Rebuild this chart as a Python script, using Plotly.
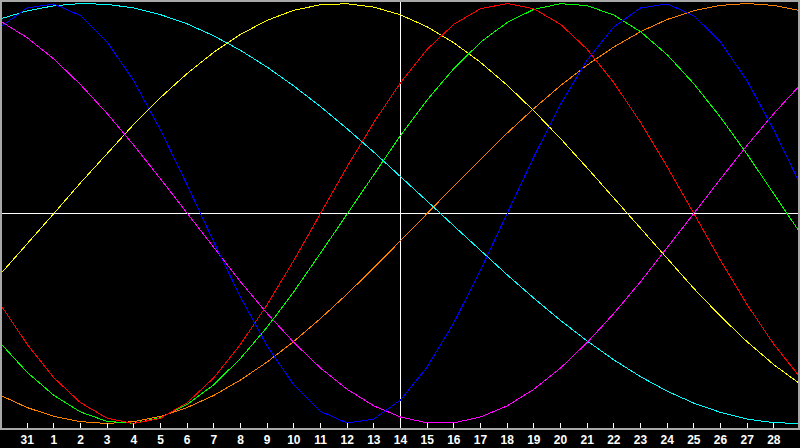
import plotly.graph_objects as go

# x categories (days shown across the chart)
days = ["30", "31", "1", "2", "3", "4", "5", "6", "7", "8", "9", "10", "11", "12", "13", "14",
        "15", "16", "17", "18", "19", "20", "21", "22", "23", "24", "25", "26", "27", "28", "29"]
tick_labels = ["31", "1", "2", "3", "4", "5", "6", "7", "8", "9", "10", "11", "12", "13", "14",
               "15", "16", "17", "18", "19", "20", "21", "22", "23", "24", "25", "26", "27", "28"]
today = "14"

physical = [0.888, 0.979, 0.998, 0.942, 0.817, 0.631, 0.398, 0.136, -0.136, -0.398, -0.631,
            -0.817, -0.942, -0.998, -0.979, -0.888, -0.731, -0.520, -0.270, 0.0, 0.270, 0.520,
            0.731, 0.888, 0.979, 0.998, 0.942, 0.817, 0.631, 0.398, 0.136]
emotional = [-0.434, -0.623, -0.782, -0.901, -0.975, -1.0, -0.975, -0.901, -0.782, -0.623,
             -0.434, -0.223, 0.0, 0.223, 0.434, 0.623, 0.782, 0.901, 0.975, 1.0, 0.975, 0.901,
             0.782, 0.623, 0.434, 0.223, 0.0, -0.223, -0.434, -0.623, -0.782]
intellectual = [-0.618, -0.756, -0.866, -0.945, -0.990, -0.999, -0.972, -0.910, -0.815, -0.690,
                -0.541, -0.372, -0.189, 0.0, 0.189, 0.372, 0.541, 0.690, 0.815, 0.910, 0.972,
                0.999, 0.990, 0.945, 0.866, 0.756, 0.618, 0.458, 0.282, 0.095, -0.095]
intuitive = [0.916, 0.837, 0.736, 0.614, 0.476, 0.325, 0.165, 0.0, -0.165, -0.325, -0.476,
             -0.614, -0.736, -0.837, -0.916, -0.969, -0.997, -0.997, -0.969, -0.916, -0.837,
             -0.736, -0.614, -0.476, -0.325, -0.165, 0.0, 0.165, 0.325, 0.476, 0.614]
aesthetic = [-0.288, -0.146, 0.0, 0.146, 0.288, 0.425, 0.552, 0.667, 0.768, 0.853, 0.920,
             0.968, 0.994, 0.999, 0.983, 0.946, 0.889, 0.813, 0.720, 0.611, 0.489, 0.357,
             0.217, 0.073, -0.073, -0.217, -0.357, -0.489, -0.611, -0.720, -0.813]
awareness = [-0.866, -0.924, -0.966, -0.991, -1.0, -0.991, -0.966, -0.924, -0.866, -0.793,
             -0.707, -0.609, -0.5, -0.383, -0.259, -0.131, 0.0, 0.131, 0.259, 0.383, 0.5,
             0.609, 0.707, 0.793, 0.866, 0.924, 0.966, 0.991, 1.0, 0.991, 0.966]
spiritual = [0.927, 0.965, 0.989, 1.0, 0.996, 0.979, 0.947, 0.903, 0.846, 0.777, 0.697, 0.607,
             0.509, 0.403, 0.292, 0.177, 0.059, -0.059, -0.177, -0.292, -0.403, -0.509, -0.607,
             -0.697, -0.777, -0.846, -0.903, -0.947, -0.979, -0.996, -1.0]

series = [
    ("Awareness", awareness, "#ff8000"),
    ("Spiritual", spiritual, "#00ffff"),
    ("Aesthetic", aesthetic, "#ffff00"),
    ("Intuitive", intuitive, "#ff00ff"),
    ("Intellectual", intellectual, "#00ff00"),
    ("Emotional", emotional, "#ff0000"),
    ("Physical", physical, "#0000ff"),
]

fig = go.Figure()
for name, vals, color in series:
    fig.add_trace(go.Scatter(x=days, y=vals, mode="lines", name=name,
                             line=dict(color=color, width=1), showlegend=False,
                             hoverinfo="skip"))

today_pos = days.index(today)
fig.add_shape(type="line", xref="x", yref="paper", x0=today_pos, x1=today_pos, y0=0, y1=1,
              line=dict(color="#ffffff", width=1), layer="below")
fig.add_shape(type="line", xref="paper", yref="y", x0=0, x1=1, y0=0, y1=0,
              line=dict(color="#ffffff", width=1), layer="below")

fig.update_layout(
    width=800, height=448,
    margin=dict(l=2, r=2, t=2, b=20, autoexpand=False),
    paper_bgcolor="#000000", plot_bgcolor="#000000",
    xaxis=dict(type="category", categoryorder="array", categoryarray=days,
               range=[0.05625, 29.90625], tickmode="array", tickvals=tick_labels,
               ticktext=tick_labels, ticks="inside", ticklen=5, tickwidth=1,
               tickcolor="#ffffff", showgrid=False, zeroline=False, automargin=False,
               showline=True, linecolor="#a8a8a8", linewidth=2, mirror=True,
               tickfont=dict(color="#ffffff", size=12, family="Liberation Sans", weight="bold")),
    yaxis=dict(range=[-1.0214, 1.0072], showticklabels=False, ticks="", showgrid=False,
               zeroline=False, showline=True, linecolor="#a8a8a8", linewidth=2, mirror=True,
               automargin=False),
)

fig.write_html(
    "out.html",
    config={"displayModeBar": False, "staticPlot": True},
    post_script=(
        "document.body.style.margin='0';document.body.style.padding='0';"
        "document.body.style.overflow='hidden';document.body.style.background='#000';"
        "var st=document.createElement('style');"
        "st.textContent='.main-svg path{shape-rendering:crispEdges !important;}';"
        "document.head.appendChild(st);"
    ),
)
